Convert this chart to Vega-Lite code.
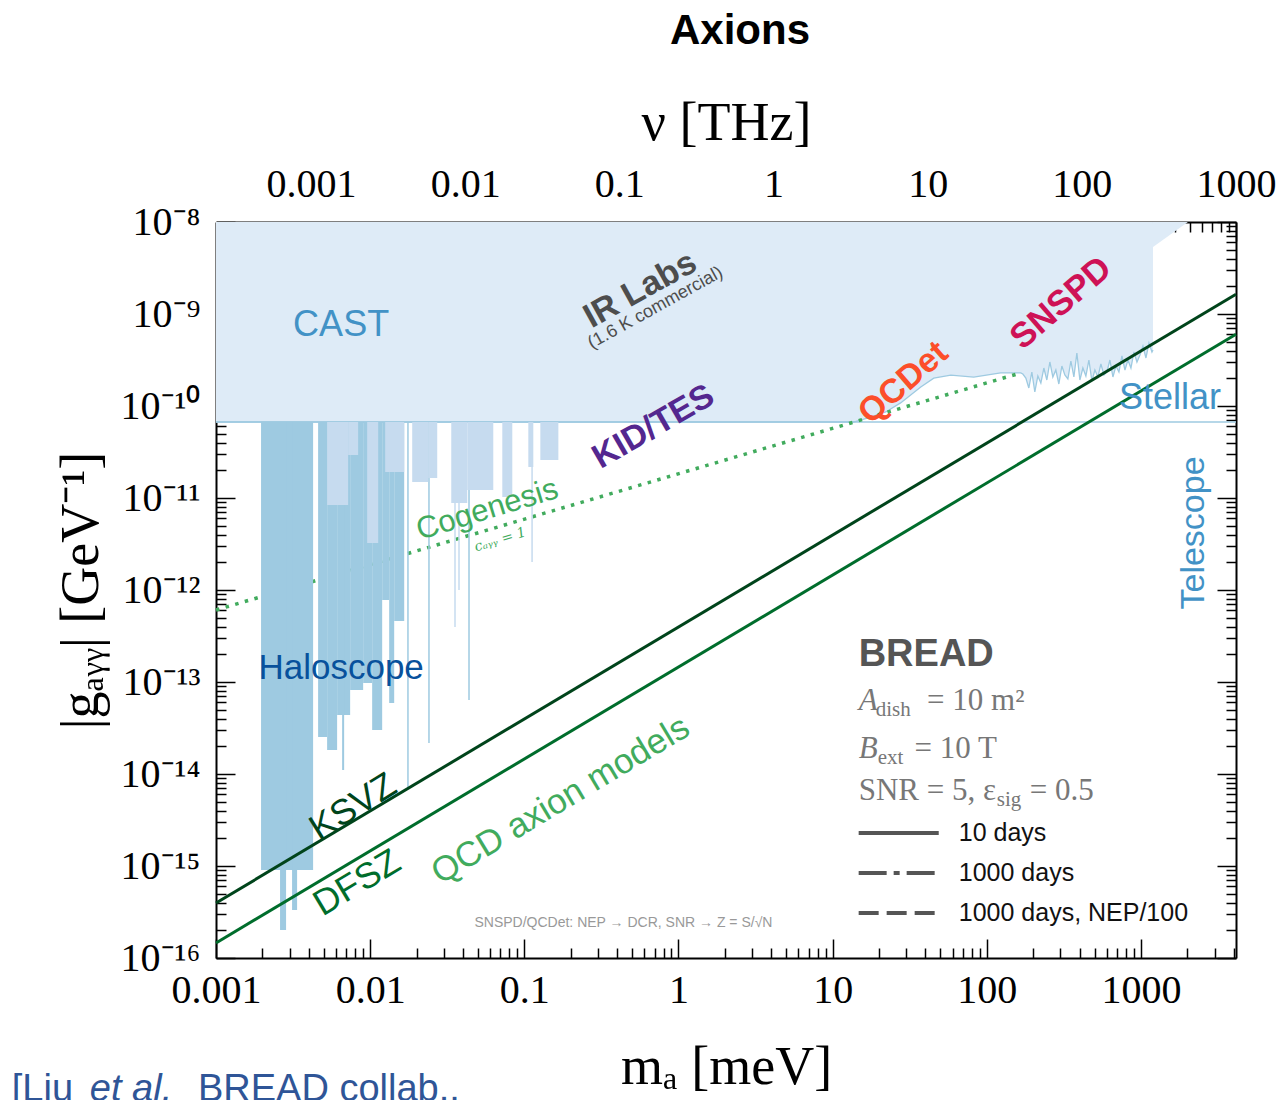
{
 "$schema": "https://vega.github.io/schema/vega-lite/v6.json",
 "width": 1020,
 "height": 736,
 "autosize": {"type": "none"},
 "padding": {"left": 216, "top": 222, "right": 50, "bottom": 142},
 "background": "white",
 "config": {"view": {"stroke": null}},
 "title": {"text": "Axions", "font": "Liberation Sans", "fontSize": 42, "fontWeight": "bold", "color": "#000", "anchor": "middle", "offset": 43, "dx": 14},
 "datasets": {
  "limit": [
   {"m":0.001,"g":6.7e-11},{"m":13.69,"g":6.7e-11},{"m":17.65,"g":7.59e-11},{"m":22.1,"g":8.61e-11},
   {"m":27.6,"g":1.08e-10},{"m":37.3,"g":1.61e-10},{"m":45.3,"g":2.01e-10},{"m":58.4,"g":2.17e-10},
   {"m":82.3,"g":2.06e-10},{"m":123,"g":2.29e-10},{"m":166,"g":2.29e-10},
   {"m":171.3,"g":2.227e-10},{"m":179.2,"g":2.015e-10},{"m":187.4,"g":1.57e-10},{"m":196.0,"g":2.342e-10},
   {"m":204.9,"g":1.42e-10},{"m":214.4,"g":2.119e-10},{"m":224.2,"g":1.778e-10},{"m":234.5,"g":2.588e-10},
   {"m":245.2,"g":1.917e-10},{"m":256.5,"g":3.008e-10},{"m":268.2,"g":2.067e-10},{"m":280.5,"g":2.462e-10},
   {"m":293.4,"g":1.734e-10},{"m":306.9,"g":2.721e-10},{"m":320.9,"g":2.173e-10},{"m":335.7,"g":1.966e-10},
   {"m":351.1,"g":3.084e-10},{"m":367.2,"g":2.067e-10},{"m":384.0,"g":3.768e-10},{"m":401.6,"g":1.917e-10},
   {"m":420.1,"g":2.588e-10},{"m":439.3,"g":2.119e-10},{"m":459.5,"g":3.162e-10},{"m":480.6,"g":1.87e-10},
   {"m":502.6,"g":2.462e-10},{"m":525.7,"g":2.067e-10},{"m":549.8,"g":2.861e-10},{"m":575.0,"g":2.173e-10},
   {"m":601.4,"g":2.342e-10},{"m":629.0,"g":3.162e-10},{"m":657.9,"g":2.067e-10},{"m":688.1,"g":2.721e-10},
   {"m":719.6,"g":2.342e-10},{"m":752.7,"g":3.496e-10},{"m":787.2,"g":2.462e-10},{"m":823.3,"g":3.162e-10},
   {"m":861.1,"g":2.588e-10},{"m":900.6,"g":3.864e-10},{"m":941.9,"g":3.008e-10},{"m":985.1,"g":3.584e-10},
   {"m":1030.3,"g":4.488e-10},{"m":1077.6,"g":3.325e-10},{"m":1127.1,"g":4.839e-10},{"m":1178.8,"g":3.864e-10},
   {"m":1197,"g":4.063e-10}
  ],
  "wedge": [{"m":1197,"g":5.35e-9},{"m":2018,"g":1e-8}],
  "stellar": [{"m":0.001,"g":6.7e-11},{"m":4135.7,"g":6.7e-11}],
  "cogen": [{"m":0.001,"g":6.06e-13},{"m":166.3,"g":2.29e-10}],
  "qcd": [
   {"model":"KSVZ","m":0.001,"g":3.96e-16},{"model":"KSVZ","m":4135.7,"g":1.638e-9},
   {"model":"DFSZ","m":0.001,"g":1.456e-16},{"model":"DFSZ","m":4135.7,"g":6.02e-10}
  ],
  "haloMed": [
   {"m1":0.00196,"m2":0.004265,"g1":6.7e-11,"g2":9.05e-16},
   {"m1":0.002603,"m2":0.002848,"g1":6.7e-11,"g2":2.015e-16},
   {"m1":0.003115,"m2":0.003358,"g1":6.7e-11,"g2":3.325e-16},
   {"m1":0.004596,"m2":0.005258,"g1":6.7e-11,"g2":2.525e-14},
   {"m1":0.005258,"m2":0.006105,"g1":6.7e-11,"g2":1.824e-14},
   {"m1":0.006105,"m2":0.007416,"g1":6.7e-11,"g2":4.378e-14},
   {"m1":0.006579,"m2":0.006779,"g1":6.7e-11,"g2":1.105e-14},
   {"m1":0.007416,"m2":0.009005,"g1":6.7e-11,"g2":8.185e-14},
   {"m1":0.009005,"m2":0.010304,"g1":6.7e-11,"g2":9.753e-14},
   {"m1":0.010304,"m2":0.011965,"g1":6.7e-11,"g2":3.008e-14},
   {"m1":0.011965,"m2":0.013285,"g1":6.7e-11,"g2":7.787e-13},
   {"m1":0.013285,"m2":0.014318,"g1":6.7e-11,"g2":5.909e-14},
   {"m1":0.014318,"m2":0.016628,"g1":6.7e-11,"g2":4.603e-13},
   {"m1":0.017392,"m2":0.017783,"g1":6.7e-11,"g2":7.224e-15},
   {"m1":0.023803,"m2":0.024343,"g1":6.7e-11,"g2":2.173e-14},
   {"m1":0.043288,"m2":0.044268,"g1":6.7e-11,"g2":6.374e-14}
  ],
  "haloLight": [
   {"m1":0.005258,"m2":0.007197,"g1":6.7e-11,"g2":8.393e-12},
   {"m1":0.007197,"m2":0.008357,"g1":6.7e-11,"g2":2.934e-11},
   {"m1":0.009561,"m2":0.011271,"g1":6.7e-11,"g2":3.243e-12},
   {"m1":0.012514,"m2":0.016628,"g1":6.7e-11,"g2":1.917e-11},
   {"m1":0.018738,"m2":0.023803,"g1":6.7e-11,"g2":1.493e-11},
   {"m1":0.023803,"m2":0.027233,"g1":6.7e-11,"g2":1.65e-11},
   {"m1":0.033575,"m2":0.042644,"g1":6.7e-11,"g2":8.824e-12},
   {"m1":0.042644,"m2":0.062914,"g1":6.7e-11,"g2":1.222e-11},
   {"m1":0.071969,"m2":0.083566,"g1":6.7e-11,"g2":1.025e-11},
   {"m1":0.10616,"m2":0.1144,"g1":6.7e-11,"g2":2.173e-11},
   {"m1":0.12703,"m2":0.16628,"g1":6.7e-11,"g2":2.588e-11},
   {"m1":0.035117,"m2":0.035913,"g1":6.7e-11,"g2":3.961e-13},
   {"m1":0.037276,"m2":0.038122,"g1":6.7e-11,"g2":1e-12},
   {"m1":0.11103,"m2":0.11355,"g1":6.7e-11,"g2":2.015e-12}
  ],
  "legendLines": [
   {"k":"10 days","m1":14.75,"m2":48.78,"g":2.285e-15},
   {"k":"1000 days","m1":14.75,"m2":48.78,"g":8.39e-16},
   {"k":"1000 days, NEP/100","m1":14.75,"m2":48.78,"g":3.08e-16}
  ],
  "legendText": [
   {"t":"10 days","m":65.79,"g":2.285e-15},
   {"t":"1000 days","m":65.79,"g":8.39e-16},
   {"t":"1000 days, NEP/100","m":65.79,"g":3.08e-16}
  ]
 },
 "resolve": {"axis": {"x": "independent", "y": "independent"}},
 "layer": [
  {
   "data": {"name": "limit"},
   "mark": {"type": "area", "color": "#deebf7", "opacity": 1},
   "encoding": {
    "x": {"field": "m", "type": "quantitative", "scale": {"type": "log", "domain": [0.001, 4135.7], "nice": false},
     "axis": {"orient": "bottom", "values": [0.001,0.01,0.1,1,10,100,1000], "format": "~g", "grid": false,
      "domain": true, "domainColor": "#000", "domainWidth": 2, "ticks": true, "tickSize": -19, "tickWidth": 1.5, "tickColor": "#000",
      "labelFont": "Liberation Serif", "labelFontSize": 40, "labelColor": "#000", "labelPadding": 31, "labelFlush": false, "labelOverlap": false,
      "title": "mₐ [meV]", "titleFont": "Liberation Serif", "titleFontSize": 54, "titleFontWeight": "normal", "titleColor": "#000", "titlePadding": 30}},
    "y": {"field": "g", "type": "quantitative", "scale": {"type": "log", "domain": [1e-16, 1e-8], "nice": false},
     "axis": {"orient": "left", "values": [1e-16,1e-15,1e-14,1e-13,1e-12,1e-11,1e-10,1e-9,1e-8],
      "labelExpr": "['10⁻¹⁶','10⁻¹⁵','10⁻¹⁴','10⁻¹³','10⁻¹²','10⁻¹¹','10⁻¹⁰','10⁻⁹','10⁻⁸'][round(log(datum.value)/LN10)+16]",
      "grid": false, "domain": true, "domainColor": "#000", "domainWidth": 2, "ticks": true, "tickSize": -19, "tickWidth": 1.5, "tickColor": "#000",
      "labelFont": "Liberation Serif", "labelFontSize": 40, "labelColor": "#000", "labelPadding": 35, "labelOverlap": false, "labelFlush": false,
      "title": "|gₐᵧᵧ| [GeV⁻¹]", "titleFont": "Liberation Serif", "titleFontSize": 54, "titleFontWeight": "normal", "titleColor": "#000", "titlePadding": 12}},
    "y2": {"datum": 1e-8}
   }
  },
  {
   "data": {"name": "wedge"},
   "mark": {"type": "area", "color": "#deebf7", "opacity": 1},
   "encoding": {
    "x": {"field": "m", "type": "quantitative", "scale": {"type": "log", "domain": [0.001, 4135.7], "nice": false},
     "axis": {"orient": "bottom", "values": [0.002,0.003,0.004,0.005,0.006,0.007,0.008,0.009,0.02,0.03,0.04,0.05,0.06,0.07,0.08,0.09,0.2,0.3,0.4,0.5,0.6,0.7,0.8,0.9,2,3,4,5,6,7,8,9,20,30,40,50,60,70,80,90,200,300,400,500,600,700,800,900,2000,3000,4000],
      "labels": false, "domain": false, "grid": false, "tickSize": -10, "tickWidth": 1.5, "tickColor": "#000", "title": null}},
    "y": {"field": "g", "type": "quantitative", "scale": {"type": "log", "domain": [1e-16, 1e-8], "nice": false},
     "axis": {"orient": "left", "values": [2e-16,3e-16,4e-16,5e-16,6e-16,7e-16,8e-16,9e-16,2e-15,3e-15,4e-15,5e-15,6e-15,7e-15,8e-15,9e-15,2e-14,3e-14,4e-14,5e-14,6e-14,7e-14,8e-14,9e-14,2e-13,3e-13,4e-13,5e-13,6e-13,7e-13,8e-13,9e-13,2e-12,3e-12,4e-12,5e-12,6e-12,7e-12,8e-12,9e-12,2e-11,3e-11,4e-11,5e-11,6e-11,7e-11,8e-11,9e-11,2e-10,3e-10,4e-10,5e-10,6e-10,7e-10,8e-10,9e-10,2e-9,3e-9,4e-9,5e-9,6e-9,7e-9,8e-9,9e-9],
      "labels": false, "domain": false, "grid": false, "tickSize": -10, "tickWidth": 1.5, "tickColor": "#000", "title": null}},
    "y2": {"datum": 1e-8}
   }
  },
  {
   "data": {"name": "stellar"},
   "mark": {"type": "line", "color": "#9ecae1", "strokeWidth": 1.6},
   "encoding": {
    "x": {"field": "m", "type": "quantitative", "scale": {"type": "log", "domain": [0.001, 4135.7], "nice": false},
     "axis": {"orient": "top", "values": [0.0041357,0.041357,0.41357,4.1357,41.357,413.57,4135.7],
      "labelExpr": "format(datum.value/4.1357, '.3~r')", "grid": false,
      "domain": true, "domainColor": "#000", "domainWidth": 2, "ticks": true, "tickSize": -19, "tickWidth": 1.5, "tickColor": "#000",
      "labelFont": "Liberation Serif", "labelFontSize": 40, "labelColor": "#000", "labelPadding": 37, "labelFlush": false, "labelOverlap": false,
      "title": "ν [THz]", "titleFont": "Liberation Serif", "titleFontSize": 54, "titleFontWeight": "normal", "titleColor": "#000", "titlePadding": 14}},
    "y": {"field": "g", "type": "quantitative", "scale": {"type": "log", "domain": [1e-16, 1e-8], "nice": false},
     "axis": {"orient": "right", "values": [1e-16,1e-15,1e-14,1e-13,1e-12,1e-11,1e-10,1e-9,1e-8],
      "labels": false, "grid": false, "domain": true, "domainColor": "#000", "domainWidth": 2, "tickSize": -19, "tickWidth": 1.5, "tickColor": "#000", "title": null}}
   }
  },
  {
   "data": {"name": "limit"},
   "mark": {"type": "line", "color": "#9ecae1", "strokeWidth": 1.3},
   "encoding": {
    "x": {"field": "m", "type": "quantitative", "scale": {"type": "log", "domain": [0.001, 4135.7], "nice": false},
     "axis": {"orient": "top", "values": [0.0012407,0.0016543,0.0020679,0.0024814,0.002895,0.0033086,0.0037221,0.0082714,0.012407,0.016543,0.020679,0.024814,0.02895,0.033086,0.037221,0.082714,0.12407,0.16543,0.20679,0.24814,0.2895,0.33086,0.37221,0.82714,1.2407,1.6543,2.0679,2.4814,2.895,3.3086,3.7221,8.2714,12.407,16.543,20.679,24.814,28.95,33.086,37.221,82.714,124.07,165.43,206.79,248.14,289.5,330.86,372.21,827.14,1240.7,1654.3,2067.9,2481.4,2895,3308.6,3722.1],
      "labels": false, "domain": false, "grid": false, "tickSize": -10, "tickWidth": 1.5, "tickColor": "#000", "title": null}},
    "y": {"field": "g", "type": "quantitative", "scale": {"type": "log", "domain": [1e-16, 1e-8], "nice": false},
     "axis": {"orient": "right", "values": [2e-16,3e-16,4e-16,5e-16,6e-16,7e-16,8e-16,9e-16,2e-15,3e-15,4e-15,5e-15,6e-15,7e-15,8e-15,9e-15,2e-14,3e-14,4e-14,5e-14,6e-14,7e-14,8e-14,9e-14,2e-13,3e-13,4e-13,5e-13,6e-13,7e-13,8e-13,9e-13,2e-12,3e-12,4e-12,5e-12,6e-12,7e-12,8e-12,9e-12,2e-11,3e-11,4e-11,5e-11,6e-11,7e-11,8e-11,9e-11,2e-10,3e-10,4e-10,5e-10,6e-10,7e-10,8e-10,9e-10,2e-9,3e-9,4e-9,5e-9,6e-9,7e-9,8e-9,9e-9],
      "labels": false, "domain": false, "grid": false, "tickSize": -10, "tickWidth": 1.5, "tickColor": "#000", "title": null}}
   }
  },
  {
   "data": {"name": "cogen"},
   "mark": {"type": "line", "color": "#41ab5d", "strokeWidth": 3.5, "strokeDash": [3.5, 6.5]},
   "encoding": {
    "x": {"field": "m", "type": "quantitative", "scale": {"type": "log", "domain": [0.001, 4135.7], "nice": false}, "axis": null},
    "y": {"field": "g", "type": "quantitative", "scale": {"type": "log", "domain": [1e-16, 1e-8], "nice": false}, "axis": null}
   }
  },
  {
   "data": {"name": "haloMed"},
   "mark": {"type": "rect", "color": "#9ecae1", "opacity": 1},
   "encoding": {
    "x": {"field": "m1", "type": "quantitative", "scale": {"type": "log", "domain": [0.001, 4135.7], "nice": false}, "axis": null},
    "x2": {"field": "m2"},
    "y": {"field": "g1", "type": "quantitative", "scale": {"type": "log", "domain": [1e-16, 1e-8], "nice": false}, "axis": null},
    "y2": {"field": "g2"}
   }
  },
  {
   "data": {"name": "haloLight"},
   "mark": {"type": "rect", "color": "#c6dbef", "opacity": 1},
   "encoding": {
    "x": {"field": "m1", "type": "quantitative", "scale": {"type": "log", "domain": [0.001, 4135.7], "nice": false}, "axis": null},
    "x2": {"field": "m2"},
    "y": {"field": "g1", "type": "quantitative", "scale": {"type": "log", "domain": [1e-16, 1e-8], "nice": false}, "axis": null},
    "y2": {"field": "g2"}
   }
  },
  {
   "data": {"name": "qcd"},
   "mark": {"type": "line", "strokeWidth": 3},
   "encoding": {
    "x": {"field": "m", "type": "quantitative", "scale": {"type": "log", "domain": [0.001, 4135.7], "nice": false}, "axis": null},
    "y": {"field": "g", "type": "quantitative", "scale": {"type": "log", "domain": [1e-16, 1e-8], "nice": false}, "axis": null},
    "color": {"field": "model", "type": "nominal", "scale": {"domain": ["KSVZ", "DFSZ"], "range": ["#00441b", "#006d2c"]}, "legend": null}
   }
  },
  {
   "data": {"name": "legendLines"},
   "mark": {"type": "rule", "color": "#555555", "strokeWidth": 4},
   "encoding": {
    "x": {"field": "m1", "type": "quantitative", "scale": {"type": "log", "domain": [0.001, 4135.7], "nice": false}, "axis": null},
    "x2": {"field": "m2"},
    "y": {"field": "g", "type": "quantitative", "scale": {"type": "log", "domain": [1e-16, 1e-8], "nice": false}, "axis": null},
    "strokeDash": {"field": "k", "type": "nominal", "scale": {"domain": ["10 days", "1000 days", "1000 days, NEP/100"], "range": [[1, 0], [28, 7, 6, 7], [20, 8]]}, "legend": null}
   }
  },
  {
   "data": {"name": "legendText"},
   "mark": {"type": "text", "font": "Liberation Sans", "fontSize": 25, "color": "#111", "align": "left", "baseline": "middle"},
   "encoding": {
    "x": {"field": "m", "type": "quantitative", "scale": {"type": "log", "domain": [0.001, 4135.7], "nice": false}, "axis": null},
    "y": {"field": "g", "type": "quantitative", "scale": {"type": "log", "domain": [1e-16, 1e-8], "nice": false}, "axis": null},
    "text": {"field": "t"}
   }
  },
  {"data": {"values": [{"t": "CAST", "m": 0.006481, "g": 7.59e-10}, {"t": "Stellar", "m": 1543, "g": 1.222e-10}]},
   "mark": {"type": "text", "font": "Liberation Sans", "fontSize": 36, "color": "#4292c6", "align": "center", "baseline": "middle"},
   "encoding": {"x": {"field": "m", "type": "quantitative", "axis": null}, "y": {"field": "g", "type": "quantitative", "axis": null}, "text": {"field": "t"}}},
  {"data": {"values": [{"t": "Haloscope", "m": 0.006481, "g": 1.42e-13}]},
   "mark": {"type": "text", "font": "Liberation Sans", "fontSize": 35, "color": "#08519c", "align": "center", "baseline": "middle"},
   "encoding": {"x": {"field": "m", "type": "quantitative", "axis": null}, "y": {"field": "g", "type": "quantitative", "axis": null}, "text": {"field": "t"}}},
  {"data": {"values": [{"t": "Telescope", "m": 2209, "g": 4.166e-12}]},
   "mark": {"type": "text", "font": "Liberation Sans", "fontSize": 34, "color": "#4292c6", "align": "center", "baseline": "middle", "angle": -90},
   "encoding": {"x": {"field": "m", "type": "quantitative", "axis": null}, "y": {"field": "g", "type": "quantitative", "axis": null}, "text": {"field": "t"}}},
  {"data": {"values": [{"t": "IR Labs", "m": 0.5666, "g": 1.824e-9}]},
   "mark": {"type": "text", "font": "Liberation Sans", "fontSize": 34, "fontWeight": "bold", "color": "#4d4d4d", "align": "center", "baseline": "middle", "angle": -29},
   "encoding": {"x": {"field": "m", "type": "quantitative", "axis": null}, "y": {"field": "g", "type": "quantitative", "axis": null}, "text": {"field": "t"}}},
  {"data": {"values": [{"t": "(1.6 K commercial)", "m": 0.7088, "g": 1.162e-9}]},
   "mark": {"type": "text", "font": "Liberation Sans", "fontSize": 18, "color": "#4d4d4d", "align": "center", "baseline": "middle", "angle": -29},
   "encoding": {"x": {"field": "m", "type": "quantitative", "axis": null}, "y": {"field": "g", "type": "quantitative", "axis": null}, "text": {"field": "t"}}},
  {"data": {"values": [{"t": "KID/TES", "m": 0.6882, "g": 5.91e-11}]},
   "mark": {"type": "text", "font": "Liberation Sans", "fontSize": 34, "fontWeight": "bold", "color": "#54278f", "align": "center", "baseline": "middle", "angle": -30},
   "encoding": {"x": {"field": "m", "type": "quantitative", "axis": null}, "y": {"field": "g", "type": "quantitative", "axis": null}, "text": {"field": "t"}}},
  {"data": {"values": [{"t": "Cogenesis", "m": 0.05751, "g": 7.41e-12}]},
   "mark": {"type": "text", "font": "Liberation Sans", "fontSize": 31, "color": "#41ab5d", "align": "center", "baseline": "middle", "angle": -17},
   "encoding": {"x": {"field": "m", "type": "quantitative", "axis": null}, "y": {"field": "g", "type": "quantitative", "axis": null}, "text": {"field": "t"}}},
  {"data": {"values": [{"t": "cₐᵧᵧ = 1", "m": 0.06985, "g": 3.5e-12}]},
   "mark": {"type": "text", "font": "DejaVu Serif", "fontStyle": "italic", "fontSize": 14, "color": "#41ab5d", "align": "center", "baseline": "middle", "angle": -17},
   "encoding": {"x": {"field": "m", "type": "quantitative", "axis": null}, "y": {"field": "g", "type": "quantitative", "axis": null}, "text": {"field": "t"}}},
  {"data": {"values": [{"t": "QCDet", "m": 28.9, "g": 1.778e-10}]},
   "mark": {"type": "text", "font": "Liberation Sans", "fontSize": 34, "fontWeight": "bold", "color": "#fc4e2a", "align": "center", "baseline": "middle", "angle": -41},
   "encoding": {"x": {"field": "m", "type": "quantitative", "axis": null}, "y": {"field": "g", "type": "quantitative", "axis": null}, "text": {"field": "t"}}},
  {"data": {"values": [{"t": "SNSPD", "m": 302.3, "g": 1.317e-9}]},
   "mark": {"type": "text", "font": "Liberation Sans", "fontSize": 35, "fontWeight": "bold", "color": "#ce1256", "align": "center", "baseline": "middle", "angle": -41},
   "encoding": {"x": {"field": "m", "type": "quantitative", "axis": null}, "y": {"field": "g", "type": "quantitative", "axis": null}, "text": {"field": "t"}}},
  {"data": {"values": [{"t": "KSVZ", "m": 0.007754, "g": 4.378e-15}]},
   "mark": {"type": "text", "font": "Liberation Sans", "fontSize": 36, "color": "#00441b", "align": "center", "baseline": "middle", "angle": -32},
   "encoding": {"x": {"field": "m", "type": "quantitative", "axis": null}, "y": {"field": "g", "type": "quantitative", "axis": null}, "text": {"field": "t"}}},
  {"data": {"values": [{"t": "DFSZ", "m": 0.008232, "g": 6.53e-16}]},
   "mark": {"type": "text", "font": "Liberation Sans", "fontSize": 36, "color": "#006d2c", "align": "center", "baseline": "middle", "angle": -31},
   "encoding": {"x": {"field": "m", "type": "quantitative", "axis": null}, "y": {"field": "g", "type": "quantitative", "axis": null}, "text": {"field": "t"}}},
  {"data": {"values": [{"t": "QCD axion models", "m": 0.1713, "g": 5.22e-15}]},
   "mark": {"type": "text", "font": "Liberation Sans", "fontSize": 35, "color": "#41ab5d", "align": "center", "baseline": "middle", "angle": -31},
   "encoding": {"x": {"field": "m", "type": "quantitative", "axis": null}, "y": {"field": "g", "type": "quantitative", "axis": null}, "text": {"field": "t"}}},
  {"data": {"values": [{"t": "SNSPD/QCDet: NEP → DCR, SNR → Z = S/√N", "m": 0.4395, "g": 2.4e-16}]},
   "mark": {"type": "text", "font": "Liberation Sans", "fontSize": 14, "color": "#999999", "align": "center", "baseline": "middle"},
   "encoding": {"x": {"field": "m", "type": "quantitative", "axis": null}, "y": {"field": "g", "type": "quantitative", "axis": null}, "text": {"field": "t"}}},
  {"data": {"values": [{"t": "BREAD", "m": 14.75, "g": 1.966e-13}]},
   "mark": {"type": "text", "font": "Liberation Sans", "fontSize": 38, "fontWeight": "bold", "color": "#555555", "align": "left", "baseline": "middle"},
   "encoding": {"x": {"field": "m", "type": "quantitative", "axis": null}, "y": {"field": "g", "type": "quantitative", "axis": null}, "text": {"field": "t"}}},
  {"data": {"values": [{"t": "A", "m": 14.75, "g": 4.962e-14}, {"t": "B", "m": 14.75, "g": 1.493e-14}]},
   "mark": {"type": "text", "font": "Liberation Serif", "fontStyle": "italic", "fontSize": 31, "color": "#777777", "align": "left", "baseline": "alphabetic"},
   "encoding": {"x": {"field": "m", "type": "quantitative", "axis": null}, "y": {"field": "g", "type": "quantitative", "axis": null}, "text": {"field": "t"}}},
  {"data": {"values": [{"t": "dish", "m": 19.016, "g": 4.27e-14}, {"t": "ext", "m": 19.6, "g": 1.285e-14}, {"t": "sig", "m": 116.1, "g": 4.49e-15}]},
   "mark": {"type": "text", "font": "Liberation Serif", "fontSize": 21, "color": "#777777", "align": "left", "baseline": "alphabetic"},
   "encoding": {"x": {"field": "m", "type": "quantitative", "axis": null}, "y": {"field": "g", "type": "quantitative", "axis": null}, "text": {"field": "t"}}},
  {"data": {"values": [{"t": "= 10 m²", "m": 41.0, "g": 4.962e-14}, {"t": "= 10 T", "m": 34.0, "g": 1.493e-14}, {"t": "SNR = 5, ε", "m": 14.75, "g": 5.218e-15}, {"t": "= 0.5", "m": 190.0, "g": 5.218e-15}]},
   "mark": {"type": "text", "font": "Liberation Serif", "fontSize": 31, "color": "#777777", "align": "left", "baseline": "alphabetic"},
   "encoding": {"x": {"field": "m", "type": "quantitative", "axis": null}, "y": {"field": "g", "type": "quantitative", "axis": null}, "text": {"field": "t"}}},
  {"data": {"values": [{"t": "[Liu", "m": 4.735e-5, "g": 2.791e-18}, {"t": "BREAD collab..", "m": 7.64e-4, "g": 2.791e-18}]},
   "mark": {"type": "text", "font": "Liberation Sans", "fontSize": 38, "color": "#2f5597", "align": "left", "baseline": "alphabetic"},
   "encoding": {"x": {"field": "m", "type": "quantitative", "axis": null}, "y": {"field": "g", "type": "quantitative", "axis": null}, "text": {"field": "t"}}},
  {"data": {"values": [{"t": "et al.", "m": 1.52e-4, "g": 2.791e-18}]},
   "mark": {"type": "text", "font": "Liberation Sans", "fontStyle": "italic", "fontSize": 38, "color": "#2f5597", "align": "left", "baseline": "alphabetic"},
   "encoding": {"x": {"field": "m", "type": "quantitative", "axis": null}, "y": {"field": "g", "type": "quantitative", "axis": null}, "text": {"field": "t"}}}
 ]
}
